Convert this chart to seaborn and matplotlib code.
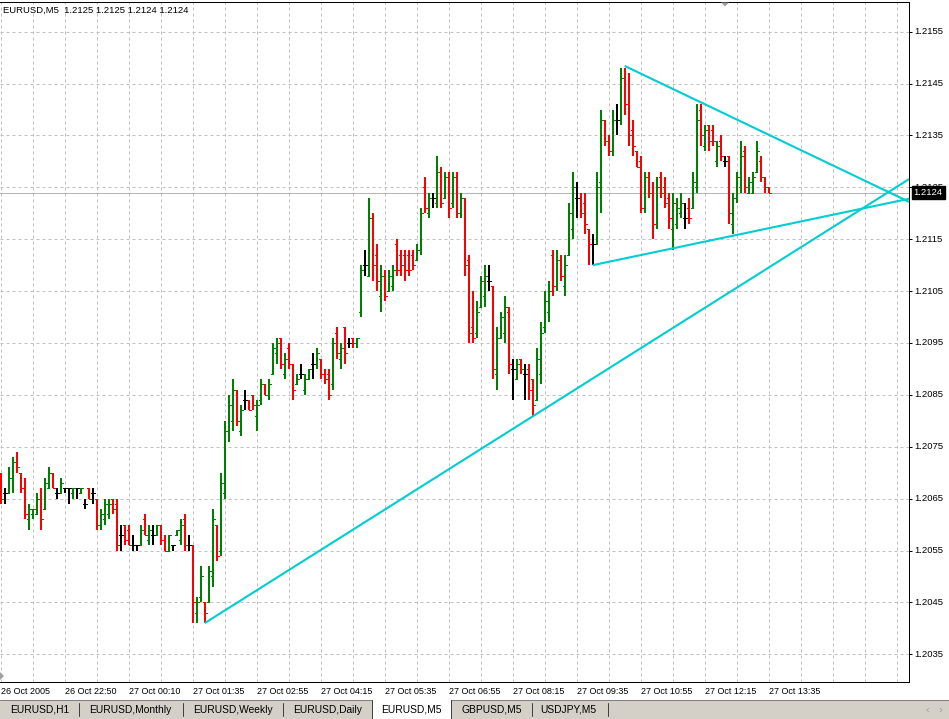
import numpy as np
import pandas as pd
import matplotlib
matplotlib.use("Agg")
import matplotlib.pyplot as plt
from matplotlib.patches import Rectangle, Polygon
from matplotlib.lines import Line2D
from matplotlib.ticker import FixedLocator, FuncFormatter
import seaborn as sns

# ---------------- data ----------------
symbol = "EURUSD,M5"

open_p = [
    1.2069, 1.2066, 1.2066, 1.2069, 1.2072, 1.2070, 1.2067, 1.2061, 1.2062, 1.2062,
    1.2065, 1.2063, 1.2067, 1.2070, 1.2066, 1.2066, 1.2067, 1.2067, 1.2066, 1.2067,
    1.2066, 1.2064, 1.2067, 1.2066, 1.2065, 1.2060, 1.2061, 1.2062, 1.2065, 1.2064,
    1.2058, 1.2060, 1.2059, 1.2056, 1.2056, 1.2056, 1.2061, 1.2057, 1.2058, 1.2058,
    1.2060, 1.2057, 1.2055, 1.2056, 1.2058, 1.2057, 1.2061, 1.2056, 1.2056, 1.2043,
    1.2046, 1.2045, 1.2045, 1.2050, 1.2060, 1.2055, 1.2066, 1.2078, 1.2080, 1.2086,
    1.2078, 1.2084, 1.2084, 1.2085, 1.2081, 1.2084, 1.2087, 1.2085, 1.2089, 1.2093,
    1.2096, 1.2089, 1.2094, 1.2091, 1.2087, 1.2089, 1.2086, 1.2088, 1.2091, 1.2091,
    1.2092, 1.2089, 1.2089, 1.2087, 1.2097, 1.2092, 1.2098, 1.2095, 1.2096, 1.2095,
    1.2101, 1.2110, 1.2108, 1.2119, 1.2112, 1.2104, 1.2108, 1.2105, 1.2106, 1.2114,
    1.2112, 1.2112, 1.2112, 1.2112, 1.2111, 1.2113, 1.2125, 1.2120, 1.2123, 1.2122,
    1.2128, 1.2123, 1.2127, 1.2122, 1.2127, 1.2120, 1.2123, 1.2111, 1.2098, 1.2097,
    1.2102, 1.2104, 1.2107, 1.2106, 1.2089, 1.2096, 1.2097, 1.2101, 1.2090, 1.2088,
    1.2092, 1.2089, 1.2090, 1.2088, 1.2084, 1.2089, 1.2098, 1.2101, 1.2112, 1.2106,
    1.2111, 1.2106, 1.2112, 1.2117, 1.2123, 1.2123, 1.2122, 1.2117, 1.2114, 1.2114,
    1.2126, 1.2138, 1.2134, 1.2132, 1.2138, 1.2138, 1.2146, 1.2141, 1.2136, 1.2132,
    1.2130, 1.2121, 1.2127, 1.2124, 1.2118, 1.2127, 1.2125, 1.2123, 1.2117, 1.2118,
    1.2120, 1.2119, 1.2121, 1.2121, 1.2125, 1.2140, 1.2133, 1.2137, 1.2136, 1.2130,
    1.2134, 1.2130, 1.2131, 1.2118, 1.2123, 1.2125, 1.2132, 1.2124, 1.2124, 1.2128,
    1.2130, 1.2127, 1.2125,
]
high_p = [
    1.2070, 1.2067, 1.2071, 1.2073, 1.2074, 1.2070, 1.2069, 1.2064, 1.2063, 1.2066,
    1.2067, 1.2069, 1.2071, 1.2070, 1.2067, 1.2069, 1.2067, 1.2067, 1.2067, 1.2067,
    1.2067, 1.2065, 1.2067, 1.2067, 1.2065, 1.2063, 1.2065, 1.2065, 1.2065, 1.2065,
    1.2060, 1.2060, 1.2060, 1.2058, 1.2056, 1.2060, 1.2062, 1.2060, 1.2060, 1.2060,
    1.2060, 1.2058, 1.2058, 1.2056, 1.2059, 1.2061, 1.2062, 1.2058, 1.2056, 1.2046,
    1.2052, 1.2045, 1.2052, 1.2063, 1.2060, 1.2070, 1.2080, 1.2085, 1.2088, 1.2086,
    1.2083, 1.2086, 1.2084, 1.2085, 1.2084, 1.2088, 1.2087, 1.2088, 1.2095, 1.2096,
    1.2096, 1.2093, 1.2095, 1.2091, 1.2089, 1.2091, 1.2089, 1.2090, 1.2093, 1.2094,
    1.2092, 1.2090, 1.2090, 1.2096, 1.2098, 1.2095, 1.2098, 1.2096, 1.2096, 1.2096,
    1.2110, 1.2113, 1.2123, 1.2120, 1.2114, 1.2110, 1.2109, 1.2109, 1.2110, 1.2115,
    1.2113, 1.2113, 1.2113, 1.2113, 1.2114, 1.2121, 1.2127, 1.2124, 1.2124, 1.2131,
    1.2129, 1.2128, 1.2128, 1.2128, 1.2128, 1.2124, 1.2123, 1.2112, 1.2105, 1.2103,
    1.2108, 1.2110, 1.2110, 1.2106, 1.2098, 1.2101, 1.2104, 1.2102, 1.2092, 1.2092,
    1.2092, 1.2091, 1.2091, 1.2088, 1.2094, 1.2099, 1.2105, 1.2107, 1.2113, 1.2113,
    1.2112, 1.2112, 1.2122, 1.2128, 1.2126, 1.2124, 1.2124, 1.2117, 1.2116, 1.2128,
    1.2140, 1.2138, 1.2135, 1.2140, 1.2141, 1.2148, 1.2148, 1.2147, 1.2138, 1.2132,
    1.2131, 1.2128, 1.2128, 1.2126, 1.2127, 1.2128, 1.2127, 1.2124, 1.2124, 1.2123,
    1.2124, 1.2122, 1.2123, 1.2128, 1.2141, 1.2141, 1.2137, 1.2137, 1.2137, 1.2134,
    1.2135, 1.2131, 1.2131, 1.2124, 1.2128, 1.2134, 1.2133, 1.2127, 1.2128, 1.2134,
    1.2131, 1.2127, 1.2125,
]
low_p = [
    1.2064, 1.2064, 1.2066, 1.2066, 1.2070, 1.2066, 1.2061, 1.2059, 1.2061, 1.2062,
    1.2059, 1.2063, 1.2067, 1.2067, 1.2065, 1.2066, 1.2066, 1.2064, 1.2065, 1.2065,
    1.2066, 1.2063, 1.2065, 1.2064, 1.2059, 1.2059, 1.2060, 1.2061, 1.2062, 1.2055,
    1.2055, 1.2056, 1.2056, 1.2055, 1.2055, 1.2056, 1.2058, 1.2056, 1.2056, 1.2058,
    1.2056, 1.2055, 1.2055, 1.2055, 1.2058, 1.2056, 1.2055, 1.2055, 1.2041, 1.2041,
    1.2045, 1.2041, 1.2045, 1.2048, 1.2053, 1.2054, 1.2065, 1.2076, 1.2078, 1.2079,
    1.2077, 1.2082, 1.2082, 1.2082, 1.2078, 1.2083, 1.2085, 1.2084, 1.2089, 1.2091,
    1.2090, 1.2088, 1.2090, 1.2084, 1.2087, 1.2088, 1.2085, 1.2088, 1.2088, 1.2090,
    1.2088, 1.2087, 1.2084, 1.2086, 1.2092, 1.2090, 1.2091, 1.2094, 1.2094, 1.2094,
    1.2100, 1.2108, 1.2108, 1.2107, 1.2105, 1.2101, 1.2103, 1.2105, 1.2105, 1.2108,
    1.2108, 1.2107, 1.2108, 1.2109, 1.2111, 1.2112, 1.2120, 1.2119, 1.2121, 1.2121,
    1.2121, 1.2123, 1.2119, 1.2121, 1.2119, 1.2119, 1.2108, 1.2095, 1.2095, 1.2096,
    1.2102, 1.2102, 1.2105, 1.2088, 1.2086, 1.2096, 1.2095, 1.2089, 1.2084, 1.2088,
    1.2089, 1.2084, 1.2084, 1.2081, 1.2084, 1.2087, 1.2097, 1.2099, 1.2104, 1.2105,
    1.2107, 1.2104, 1.2112, 1.2115, 1.2119, 1.2119, 1.2116, 1.2110, 1.2110, 1.2114,
    1.2120, 1.2133, 1.2131, 1.2131, 1.2135, 1.2137, 1.2139, 1.2133, 1.2131, 1.2129,
    1.2120, 1.2120, 1.2123, 1.2115, 1.2117, 1.2123, 1.2121, 1.2117, 1.2113, 1.2117,
    1.2119, 1.2117, 1.2118, 1.2121, 1.2124, 1.2133, 1.2132, 1.2132, 1.2133, 1.2129,
    1.2130, 1.2129, 1.2118, 1.2116, 1.2122, 1.2124, 1.2124, 1.2124, 1.2124, 1.2128,
    1.2126, 1.2124, 1.2124,
]
close_p = [
    1.2065, 1.2066, 1.2069, 1.2072, 1.2071, 1.2067, 1.2062, 1.2063, 1.2063, 1.2065,
    1.2061, 1.2068, 1.2070, 1.2067, 1.2066, 1.2068, 1.2067, 1.2067, 1.2067, 1.2067,
    1.2067, 1.2064, 1.2065, 1.2066, 1.2060, 1.2062, 1.2064, 1.2064, 1.2063, 1.2056,
    1.2058, 1.2057, 1.2056, 1.2056, 1.2056, 1.2059, 1.2058, 1.2059, 1.2058, 1.2060,
    1.2057, 1.2055, 1.2058, 1.2056, 1.2059, 1.2060, 1.2056, 1.2056, 1.2045, 1.2045,
    1.2050, 1.2043, 1.2051, 1.2061, 1.2054, 1.2068, 1.2078, 1.2083, 1.2086, 1.2080,
    1.2082, 1.2084, 1.2082, 1.2083, 1.2083, 1.2087, 1.2085, 1.2087, 1.2094, 1.2095,
    1.2091, 1.2092, 1.2091, 1.2086, 1.2088, 1.2089, 1.2088, 1.2090, 1.2091, 1.2093,
    1.2089, 1.2088, 1.2085, 1.2095, 1.2093, 1.2094, 1.2093, 1.2095, 1.2095, 1.2096,
    1.2109, 1.2110, 1.2119, 1.2110, 1.2107, 1.2108, 1.2104, 1.2108, 1.2109, 1.2109,
    1.2110, 1.2109, 1.2109, 1.2110, 1.2113, 1.2120, 1.2121, 1.2123, 1.2123, 1.2128,
    1.2122, 1.2127, 1.2121, 1.2127, 1.2120, 1.2123, 1.2110, 1.2097, 1.2096, 1.2101,
    1.2107, 1.2108, 1.2107, 1.2090, 1.2096, 1.2100, 1.2102, 1.2091, 1.2090, 1.2091,
    1.2090, 1.2089, 1.2086, 1.2083, 1.2092, 1.2097, 1.2103, 1.2105, 1.2106, 1.2111,
    1.2108, 1.2110, 1.2120, 1.2125, 1.2123, 1.2120, 1.2118, 1.2114, 1.2114, 1.2125,
    1.2138, 1.2134, 1.2132, 1.2138, 1.2138, 1.2146, 1.2141, 1.2135, 1.2133, 1.2129,
    1.2121, 1.2127, 1.2124, 1.2118, 1.2125, 1.2124, 1.2122, 1.2119, 1.2122, 1.2121,
    1.2122, 1.2119, 1.2119, 1.2126, 1.2138, 1.2135, 1.2136, 1.2134, 1.2134, 1.2133,
    1.2131, 1.2130, 1.2120, 1.2123, 1.2127, 1.2131, 1.2125, 1.2126, 1.2127, 1.2132,
    1.2127, 1.2125, 1.2124,
]

time_labels = ["26 Oct 2005", "26 Oct 22:50", "27 Oct 00:10", "27 Oct 01:35",
               "27 Oct 02:55", "27 Oct 04:15", "27 Oct 05:35", "27 Oct 06:55",
               "27 Oct 08:15", "27 Oct 09:35", "27 Oct 10:55", "27 Oct 12:15",
               "27 Oct 13:35"]
price_ticks = [1.2035, 1.2045, 1.2055, 1.2065, 1.2075, 1.2085, 1.2095,
               1.2105, 1.2115, 1.2125, 1.2135, 1.2145, 1.2155]
bid_price = 1.2124

# trend lines: start anchor (bar, price) and end at right edge (bar, price)
trend_names = ["support", "triangle_low", "triangle_high"]
trend_bar0 = [51, 148, 156]
trend_price0 = [1.2041, 1.2110, 1.21484]
trend_bar1 = [227.1, 227.1, 227.1]
trend_price1 = [1.21266, 1.21228, 1.21222]

tab_names = ["EURUSD,H1", "EURUSD,Monthly", "EURUSD,Weekly", "EURUSD,Daily",
             "EURUSD,M5", "GBPUSD,M5", "USDJPY,M5"]
active_tab = "EURUSD,M5"

# ---------------- style ----------------
sns.set_style("white")
plt.rcParams["font.family"] = ["Liberation Sans", "DejaVu Sans"]

W, H = 949, 719
fig = plt.figure(figsize=(W / 100, H / 100), dpi=100, facecolor="white")
PX = 0.72  # one pixel in points

ax_left, ax_right, ax_top, ax_bottom = 0, 909, 2, 682
ax = fig.add_axes([ax_left / W, 1 - ax_bottom / H,
                   (ax_right - ax_left) / W, (ax_bottom - ax_top) / H])
ax.set_facecolor("white")

GREEN, RED, BLACK = "#008000", "#ff0000", "#000000"
CYAN = "#00ced1"
GRID = "#c0c0c0"

bars_df = pd.DataFrame({"open": open_p, "high": high_p, "low": low_p, "close": close_p})
bars_df["bar"] = np.arange(len(bars_df))
bars_df["dir"] = np.where(bars_df["close"] > bars_df["open"], "up",
                          np.where(bars_df["close"] < bars_df["open"], "down", "flat"))
colour_of = {"up": GREEN, "down": RED, "flat": BLACK}
cols = bars_df["dir"].map(colour_of).tolist()

tick = 0.5
LW = 2 * PX
ax.vlines(bars_df["bar"], bars_df["low"], bars_df["high"], colors=cols,
          lw=LW, antialiased=False, zorder=3, capstyle="butt")
ax.hlines(bars_df["open"], bars_df["bar"] - tick, bars_df["bar"], colors=cols,
          lw=PX, antialiased=False, zorder=3)
ax.hlines(bars_df["close"], bars_df["bar"], bars_df["bar"] + tick, colors=cols,
          lw=PX, antialiased=False, zorder=3)

# trend lines (seaborn)
tl = pd.DataFrame({
    "line": trend_names * 2,
    "bar": trend_bar0 + trend_bar1,
    "price": trend_price0 + trend_price1,
})
sns.lineplot(data=tl, x="bar", y="price", units="line", estimator=None,
             color=CYAN, sort=False, legend=False, linewidth=2.0 * PX * 1.05,
             ax=ax, zorder=4, solid_capstyle="butt")

# bid line
ax.axhline(bid_price, color="#b4b4b4", lw=PX, zorder=2)

# limits (4 px per bar, 1.2155 at y=31.7, 5.188 px per pip)
px_per_bar = 4.0
x0_px = 0.7
ax.set_xlim(-x0_px / px_per_bar, (ax_right - ax_left - x0_px) / px_per_bar)
ppp = 5.188
y_ref_px, p_ref = 31.7, 1.2155
ax.set_ylim(p_ref - (ax_bottom - y_ref_px) / ppp * 1e-4,
            p_ref + (y_ref_px - ax_top) / ppp * 1e-4)

# ticks
label_bars = [16 * k for k in range(len(time_labels))]
ax.xaxis.set_major_locator(FixedLocator(label_bars))
ax.xaxis.set_minor_locator(FixedLocator([8 * k for k in range(0, 30)]))
ax.set_xticklabels(time_labels, ha="left", fontsize=6.5)
ax.tick_params(axis="x", which="major", direction="out", length=3 * PX,
               width=PX, pad=1.2, color="black", labelcolor="black")
ax.tick_params(axis="x", which="minor", length=0)

ax.yaxis.tick_right()
ax.yaxis.set_major_locator(FixedLocator(price_ticks))
ax.yaxis.set_major_formatter(FuncFormatter(lambda v, p: f"{v:.4f}"))
ax.tick_params(axis="y", which="major", direction="out", length=3 * PX,
               width=PX, pad=1.5, labelsize=6.8, color="black", labelcolor="black")
for lab in ax.get_yticklabels():
    lab.set_verticalalignment("center")

ax.set_xlabel(""); ax.set_ylabel("")

# grid
ax.set_axisbelow(True)
ax.grid(True, which="both", axis="x", color=GRID, lw=PX, linestyle=(0, (3, 3)))
ax.grid(True, which="major", axis="y", color=GRID, lw=PX, linestyle=(0, (3, 3)))

for s in ["top", "right", "bottom"]:
    ax.spines[s].set_color("black"); ax.spines[s].set_linewidth(PX)
ax.spines["left"].set_visible(False)

# current price label
ax.annotate(f"{bid_price:.4f}", xy=(1.0, bid_price), xycoords=("axes fraction", "data"),
            xytext=(3.3, 0), textcoords="offset points", ha="left", va="center",
            fontsize=6.8, color="white", zorder=10, annotation_clip=False,
            bbox=dict(boxstyle="square,pad=0.2", fc="black", ec="black"))

# header (last bar OHLC)
last = bars_df.iloc[-1]
fig.text(3 / W, 1 - 10 / H,
         f"{symbol}  {last['open']:.4f} {last['high']:.4f} {last['low']:.4f} {last['close']:.4f}",
         fontsize=6.8, color="black", ha="left", va="center")

# chart shift marker
def fpx(x, y):
    return (x / W, 1 - y / H)
fig.add_artist(Polygon([fpx(721, 2.5), fpx(729, 2.5), fpx(725, 6.5)], closed=True,
                       transform=fig.transFigure, fc="#a0a0a0", ec="none"))
fig.add_artist(Polygon([fpx(0, 672), fpx(4, 676), fpx(0, 680)], closed=True,
                       transform=fig.transFigure, fc="#a0a0a0", ec="none"))

# tab strip
strip_top = 700
fig.add_artist(Rectangle(fpx(0, H), 1, (H - strip_top) / H, transform=fig.transFigure,
                         fc="#d4d0c8", ec="none", zorder=1))
act_x0, act_x1 = 372, 451
fig.add_artist(Rectangle(fpx(act_x0, H), (act_x1 - act_x0) / W, (H - strip_top + 1) / H,
                         transform=fig.transFigure, fc="white", ec="none", zorder=2))
fig.add_artist(Line2D([0, act_x0 / W], [1 - strip_top / H] * 2, transform=fig.transFigure,
                      color="#808080", lw=PX, zorder=3))
fig.add_artist(Line2D([act_x1 / W, 1], [1 - strip_top / H] * 2, transform=fig.transFigure,
                      color="#808080", lw=PX, zorder=3))
for xx in (act_x0, act_x1):
    fig.add_artist(Line2D([xx / W] * 2, [1 - strip_top / H, 0], transform=fig.transFigure,
                          color="#404040", lw=PX, zorder=3))

tab_x = [10, 89, 193, 293, 381, 462, 540]
sep_x = [79, 183, 283, 532, 608]
for name, xx in zip(tab_names, tab_x):
    fig.text(xx / W, 1 - 710 / H, name, fontsize=7.4, color="black",
             ha="left", va="center", zorder=5)
for xx in sep_x:
    fig.add_artist(Line2D([xx / W] * 2, [1 - 703 / H, 1 - 716 / H],
                          transform=fig.transFigure, color="#404040", lw=PX, zorder=4))
fig.text(927 / W, 1 - 710 / H, "\u2039", fontsize=8, color="#a0a0a0", ha="center", va="center")
fig.text(940 / W, 1 - 710 / H, "\u203a", fontsize=8, color="#a0a0a0", ha="center", va="center")

fig.savefig("out.png", dpi=100, facecolor="white")
